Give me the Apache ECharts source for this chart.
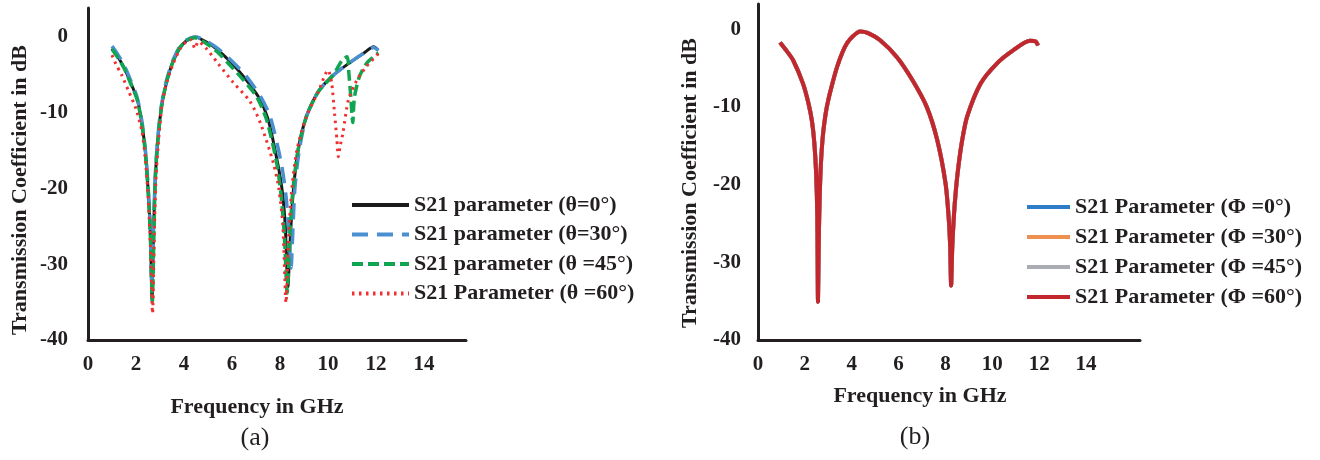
<!DOCTYPE html>
<html><head><meta charset="utf-8">
<script src="https://cdn.jsdelivr.net/npm/echarts/dist/echarts.min.js"></script>
<style>html,body{margin:0;padding:0;background:#fff}#c{width:1320px;height:460px}</style>
</head><body><div id="c"></div><script>
// ---- Data: chart (a) – S21 vs frequency for different theta ----
const fTheta0 = [1.0, 1.2, 1.5, 1.8, 2.05, 2.25, 2.4, 2.52, 2.6, 2.67, 2.72, 2.8, 2.9, 3.05, 3.25, 3.5, 3.8, 4.1, 4.46, 4.9, 5.4, 6.0, 6.5, 7.1, 7.5, 7.9, 8.1, 8.22, 8.33, 8.42, 8.55, 8.75, 9.1, 9.6, 10.2, 10.9, 11.5, 11.9, 12.08];
const sTheta0 = [-1.5, -2.4, -4.0, -6.2, -8.2, -11.5, -15.5, -21, -26, -34.7, -27, -19, -14, -9.5, -6.3, -3.6, -1.6, -0.5, 0, -0.6, -1.7, -3.5, -5.3, -7.9, -10.8, -16.6, -20.5, -25, -33, -27, -20.5, -15, -10.5, -7.2, -5.1, -3.4, -2.1, -1.3, -1.7];

const fTheta30 = [1.0, 1.2, 1.5, 1.8, 2.05, 2.25, 2.4, 2.52, 2.6, 2.66, 2.72, 2.8, 2.9, 3.05, 3.25, 3.5, 3.8, 4.1, 4.5, 4.9, 5.4, 6.1, 6.6, 7.2, 7.6, 8.05, 8.25, 8.38, 8.46, 8.53, 8.62, 8.8, 9.1, 9.6, 10.2, 10.9, 11.5, 11.9, 12.1];
const sTheta30 = [-1.2, -2.1, -3.7, -5.9, -8.0, -11.2, -15.2, -20.5, -25.5, -33, -26, -18.5, -13.5, -9.2, -6.0, -3.4, -1.4, -0.4, 0, -0.5, -1.5, -3.5, -5.2, -7.9, -10.6, -16.6, -21, -26, -30.5, -26, -20, -15, -10.5, -7.2, -5.1, -3.4, -2.1, -1.4, -1.8];

const fTheta45 = [1.0, 1.2, 1.5, 1.8, 2.05, 2.25, 2.4, 2.52, 2.6, 2.68, 2.74, 2.8, 2.9, 3.05, 3.25, 3.5, 3.8, 4.1, 4.45, 4.9, 5.4, 5.85, 6.4, 7.03, 7.45, 7.86, 8.05, 8.18, 8.3, 8.4, 8.53, 8.75, 9.1, 9.6, 10.2, 10.6, 10.8, 10.87, 10.95, 11.03, 11.1, 11.3, 11.6, 11.9, 12.1];
const sTheta45 = [-1.6, -2.5, -4.1, -6.3, -8.3, -11.6, -15.6, -21, -26.5, -35, -27, -19, -14, -9.5, -6.2, -3.6, -1.5, -0.5, -0.1, -0.8, -2.0, -3.5, -5.4, -7.9, -11, -16.6, -21, -26, -33.8, -27, -20.5, -15, -10.5, -7.2, -5.1, -3.0, -2.6, -4.8, -7.9, -11.3, -8.0, -5.3, -3.5, -2.6, -2.1];

const fTheta60 = [1.0, 1.15, 1.4, 1.7, 2.0, 2.25, 2.4, 2.52, 2.6, 2.69, 2.75, 2.82, 2.92, 3.1, 3.3, 3.55, 3.85, 4.1, 4.3, 4.45, 4.6, 4.9, 5.42, 6.05, 6.75, 7.2, 7.72, 7.95, 8.12, 8.25, 8.35, 8.48, 8.7, 9.1, 9.6, 10.0, 10.15, 10.27, 10.37, 10.43, 10.5, 10.62, 10.85, 11.2, 11.6, 12.1];
const sTheta60 = [-2.4, -3.5, -5.0, -7.2, -9.5, -12.5, -16.5, -22, -27.5, -36.5, -28, -19.5, -14.5, -8.5, -5.8, -3.5, -1.5, -0.6, -0.4, -1.5, -0.6, -1.4, -3.5, -6.0, -8.5, -11.5, -16.6, -20, -25, -35.1, -27, -20.5, -15, -10.5, -7.2, -4.4, -6.0, -10, -13.5, -15.8, -14.5, -12.7, -8.3, -5.7, -3.9, -2.2];

// ---- Data: chart (b) – S21 vs frequency for different phi (all four curves coincide) ----
const fPhi = [0.94, 1.2, 1.5, 1.92, 2.15, 2.3, 2.4, 2.48, 2.53, 2.56, 2.6, 2.66, 2.75, 2.88, 3.0, 3.2, 3.37, 3.6, 3.8, 4.05, 4.36, 4.7, 5.2, 5.93, 6.6, 7.2, 7.65, 8.0, 8.13, 8.2, 8.24, 8.29, 8.36, 8.45, 8.55, 8.7, 8.92, 9.5, 10.2, 10.9, 11.6, 11.85, 11.95];
const sPhi0  = [-1.7, -2.7, -4, -7, -9.5, -11.8, -14.5, -18.5, -24, -35.1, -26, -19, -14.3, -11, -9.1, -6.7, -4.9, -3.0, -1.8, -0.9, -0.3, -0.5, -1.4, -3.6, -6.6, -10, -14.3, -19.8, -24, -28, -33, -28, -24, -20.5, -17.7, -14.5, -11.3, -7, -4.4, -2.7, -1.5, -1.6, -2.1];
const sPhi30 = sPhi0, sPhi45 = sPhi0, sPhi60 = sPhi0;

const namesA = ['S21 parameter (θ=0°)', 'S21 parameter (θ=30°)', 'S21 parameter (θ =45°)', 'S21 Parameter (θ =60°)'];
const namesB = ['S21 Parameter (Φ =0°)', 'S21 Parameter (Φ =30°)', 'S21 Parameter (Φ =45°)', 'S21 Parameter (Φ =60°)'];
const yTicks = [-40, -30, -20, -10, 0];
const xTicks = [0, 2, 4, 6, 8, 10, 12, 14];

const zip = (xs, ys) => xs.map((x, i) => [x, ys[i]]);
const INK = '#231f20';
const SERIF = '"Liberation Serif", "Times New Roman", serif';

function xAxis(gi, max) {
  return {
    type: 'value', gridIndex: gi, min: 0, max: max, interval: 2,
    axisLine: { show: true, onZero: false, lineStyle: { color: INK, width: 3 } },
    axisTick: { show: false }, splitLine: { show: false },
    axisLabel: { showMaxLabel: false, margin: 14, color: INK, fontFamily: SERIF, fontWeight: 'bold', fontSize: 21,
      formatter: v => xTicks.includes(v) ? String(v) : '' }
  };
}
function yAxis(gi, max, margin) {
  return {
    type: 'value', gridIndex: gi, min: -40, max: max, interval: 10,
    axisLine: { show: true, onZero: false, lineStyle: { color: INK, width: 3 } },
    axisTick: { show: false }, splitLine: { show: false },
    axisLabel: { showMaxLabel: false, margin: margin, color: INK, fontFamily: SERIF, fontWeight: 'bold', fontSize: 21,
      formatter: v => yTicks.includes(v) ? String(v) : '' }
  };
}
function line(name, data, gi, color, width, type) {
  return {
    name, type: 'line', xAxisIndex: gi, yAxisIndex: gi, data,
    symbol: 'none', showSymbol: false, smooth: 0.25, animation: false,
    lineStyle: { color, width, type, cap: 'butt' }, itemStyle: { color }
  };
}
const legendCommon = {
  orient: 'vertical', itemHeight: 14, padding: 0, selectedMode: false,
  itemStyle: { color: 'rgba(0,0,0,0)', borderWidth: 0, opacity: 0 },
  lineStyle: { width: 4 },
  textStyle: { color: INK, fontFamily: SERIF, fontWeight: 'bold', fontSize: 22 }
};

const chart = echarts.init(document.getElementById('c'));
chart.setOption({
  backgroundColor: '#fff',
  animation: false,
  grid: [
    { left: 88, top: 8, width: 378, height: 332 },
    { left: 758, top: 4, width: 382, height: 336 }
  ],
  xAxis: [xAxis(0, 15.75), xAxis(1, 16.3)],
  yAxis: [yAxis(0, 3.83, 20), yAxis(1, 3.24, 17)],
  legend: [
    Object.assign({ data: namesA, left: 350, top: 194, itemWidth: 57, itemGap: 7.5 }, legendCommon),
    Object.assign({ data: namesB, left: 1025, top: 196, itemWidth: 43, itemGap: 8 }, legendCommon)
  ],
  series: [
    line(namesA[0], zip(fTheta0, sTheta0), 0, '#1a1a1a', 3, 'solid'),
    line(namesA[1], zip(fTheta30, sTheta30), 0, '#4a90d0', 3.5, [16, 9]),
    line(namesA[2], zip(fTheta45, sTheta45), 0, '#10a550', 3.5, [11, 5]),
    line(namesA[3], zip(fTheta60, sTheta60), 0, '#f03030', 3, [2.5, 4.5]),
    line(namesB[0], zip(fPhi, sPhi0), 1, '#2e7dc8', 4, 'solid'),
    line(namesB[1], zip(fPhi, sPhi30), 1, '#ee9150', 4, 'solid'),
    line(namesB[2], zip(fPhi, sPhi45), 1, '#a9adb3', 4, 'solid'),
    line(namesB[3], zip(fPhi, sPhi60), 1, '#c1272d', 4, 'solid')
  ],
  graphic: [
    { type: 'text', x: 20, y: 190, rotation: Math.PI / 2,
      style: { text: 'Transmission Coefficient in dB', fill: INK, font: 'bold 22px ' + SERIF, textAlign: 'center', textVerticalAlign: 'middle' } },
    { type: 'text', x: 690, y: 183, rotation: Math.PI / 2,
      style: { text: 'Transmission Coefficient in dB', fill: INK, font: 'bold 22px ' + SERIF, textAlign: 'center', textVerticalAlign: 'middle' } },
    { type: 'text', x: 257, y: 407,
      style: { text: 'Frequency in GHz', fill: INK, font: 'bold 22px ' + SERIF, textAlign: 'center', textVerticalAlign: 'middle' } },
    { type: 'text', x: 920, y: 396,
      style: { text: 'Frequency in GHz', fill: INK, font: 'bold 22px ' + SERIF, textAlign: 'center', textVerticalAlign: 'middle' } },
    { type: 'text', x: 255, y: 438,
      style: { text: '(a)', fill: INK, font: '26px ' + SERIF, textAlign: 'center', textVerticalAlign: 'middle' } },
    { type: 'text', x: 915, y: 437,
      style: { text: '(b)', fill: INK, font: '26px ' + SERIF, textAlign: 'center', textVerticalAlign: 'middle' } }
  ]
});
</script></body></html>
